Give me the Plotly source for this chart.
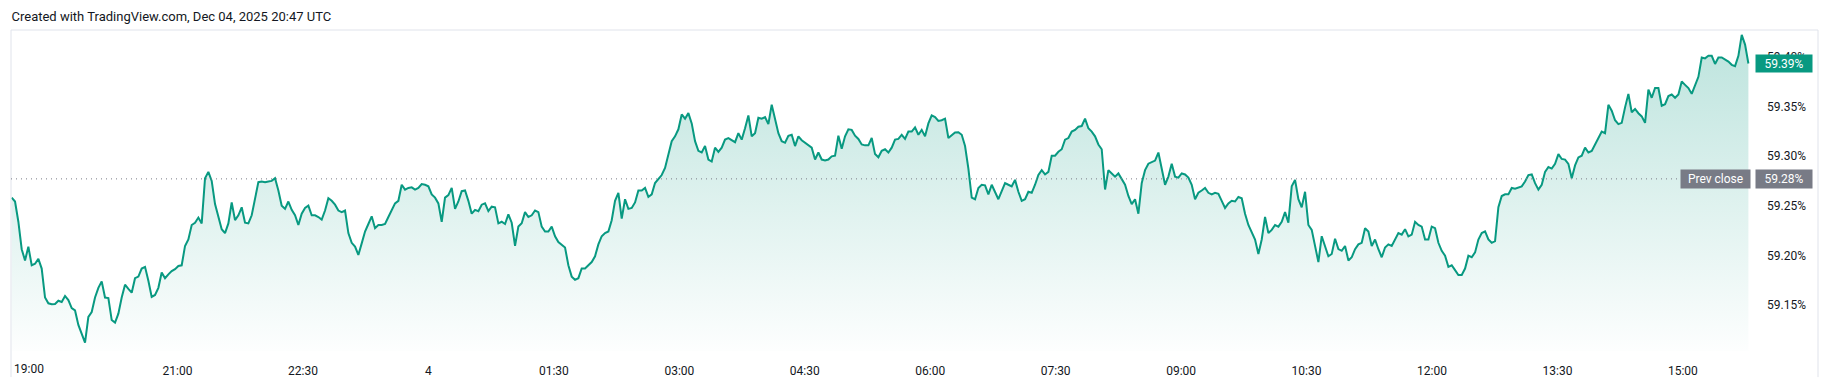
import pandas as pd
import plotly.graph_objects as go

# ---------------- data ----------------
START = "2025-12-03 19:01"
END = "2025-12-04 15:47"
PREV_CLOSE = 59.2772

seg_evening = [
    59.2583, 59.2544, 59.2340, 59.2063, 59.1950, 59.2089, 59.1901, 59.1917, 59.1966, 59.1868,
    59.1576, 59.1518, 59.1508, 59.1511, 59.1544, 59.1531, 59.1592, 59.1550, 59.1469, 59.1446,
    59.1300, 59.1202, 59.1121, 59.1381, 59.1430, 59.1576, 59.1674, 59.1739, 59.1576, 59.1570,
    59.1349, 59.1323, 59.1414, 59.1576, 59.1706, 59.1664, 59.1625, 59.1771, 59.1787, 59.1868,
    59.1885, 59.1745, 59.1583, 59.1602, 59.1674, 59.1829, 59.1771, 59.1810, 59.1842, 59.1862,
    59.1894, 59.1901, 59.2096, 59.2161, 59.2307, 59.2330, 59.2382, 59.2323, 59.2778, 59.2843,
    59.2752, 59.2518, 59.2388, 59.2265, 59.2226, 59.2323, 59.2534, 59.2356, 59.2405, 59.2486,
    59.2330, 59.2323, 59.2405, 59.2557, 59.2739, 59.2746, 59.2739, 59.2746, 59.2752, 59.2778,
    59.2655, 59.2502, 59.2470, 59.2544, 59.2460, 59.2405, 59.2307, 59.2421, 59.2479, 59.2502,
    59.2405, 59.2405, 59.2388, 59.2362, 59.2453, 59.2577, 59.2551, 59.2512, 59.2453, 59.2437,
    59.2453, 59.2226, 59.2128, 59.2089, 59.2005, 59.2122, 59.2242, 59.2317, 59.2395, 59.2275,
    59.2307, 59.2307, 59.2317, 59.2388, 59.2453, 59.2525, 59.2551, 59.2713, 59.2664, 59.2681,
    59.2687, 59.2664, 59.2681, 59.2720, 59.2713, 59.2697, 59.2616, 59.2583, 59.2525, 59.2340,
    59.2583, 59.2609, 59.2681, 59.2470, 59.2544,
]

seg_night = [
    59.2648, 59.2655, 59.2551, 59.2421, 59.2460, 59.2447, 59.2512, 59.2525, 59.2447, 59.2492,
    59.2486, 59.2324, 59.2340, 59.2317, 59.2414, 59.2330, 59.2096, 59.2291, 59.2324, 59.2437,
    59.2388, 59.2405, 59.2453, 59.2437, 59.2291, 59.2242, 59.2242, 59.2291, 59.2194, 59.2135,
    59.2103, 59.2080, 59.1901, 59.1787, 59.1755, 59.1771, 59.1869, 59.1869, 59.1901, 59.1934,
    59.1992, 59.2112, 59.2194, 59.2226, 59.2242, 59.2356, 59.2551, 59.2632, 59.2372, 59.2567,
    59.2470, 59.2479, 59.2535, 59.2655, 59.2655, 59.2681, 59.2590, 59.2616, 59.2730, 59.2769,
    59.2811, 59.2882, 59.3006, 59.3152, 59.3201, 59.3272, 59.3422, 59.3379, 59.3435, 59.3331,
    59.3152, 59.3055, 59.3038, 59.3103, 59.2967, 59.2947, 59.3087, 59.3045, 59.3087, 59.3168,
    59.3184, 59.3162, 59.3142, 59.3233, 59.3168, 59.3282, 59.3412, 59.3201, 59.3233, 59.3389,
    59.3379, 59.3396, 59.3324, 59.3519, 59.3379, 59.3233, 59.3152, 59.3136, 59.3207, 59.3217,
    59.3103, 59.3201, 59.3162, 59.3136, 59.3110, 59.3087, 59.2967, 59.3038, 59.2967, 59.2957,
    59.2967, 59.2999, 59.3006, 59.3207, 59.3077, 59.3201, 59.3272, 59.3266, 59.3207, 59.3175,
    59.3119, 59.3110, 59.3110, 59.3184, 59.3022, 59.2990, 59.3055, 59.3071, 59.3038, 59.3087,
    59.3168, 59.3175, 59.3217, 59.3175, 59.3249,
]

seg_morning = [
    59.3249, 59.3292, 59.3217, 59.3266, 59.3201, 59.3331, 59.3412, 59.3396, 59.3357, 59.3363,
    59.3379, 59.3184, 59.3217, 59.3240, 59.3243, 59.3217, 59.3103, 59.2876, 59.2583, 59.2567,
    59.2681, 59.2713, 59.2707, 59.2616, 59.2713, 59.2648, 59.2567, 59.2648, 59.2730, 59.2713,
    59.2697, 59.2762, 59.2642, 59.2551, 59.2567, 59.2642, 59.2632, 59.2713, 59.2811, 59.2860,
    59.2817, 59.2843, 59.3006, 59.3006, 59.3045, 59.3071, 59.3168, 59.3184, 59.3249, 59.3266,
    59.3298, 59.3305, 59.3379, 59.3282, 59.3249, 59.3201, 59.3119, 59.3071, 59.2665, 59.2860,
    59.2827, 59.2795, 59.2827, 59.2762, 59.2713, 59.2600, 59.2518, 59.2567, 59.2421, 59.2730,
    59.2860, 59.2925, 59.2941, 59.2957, 59.3038, 59.2876, 59.2713, 59.2795, 59.2925, 59.2795,
    59.2785, 59.2827, 59.2817, 59.2785, 59.2713, 59.2567, 59.2632, 59.2655, 59.2681, 59.2632,
    59.2616, 59.2632, 59.2622, 59.2551, 59.2479, 59.2525, 59.2551, 59.2544, 59.2590, 59.2577,
    59.2421, 59.2307, 59.2226, 59.2161, 59.2015, 59.2161, 59.2388, 59.2226, 59.2258, 59.2307,
    59.2291, 59.2340, 59.2437, 59.2330, 59.2697, 59.2762, 59.2567, 59.2486, 59.2642, 59.2307,
    59.2258, 59.2096, 59.1934, 59.2194, 59.2096, 59.1992, 59.2015, 59.2168, 59.2064, 59.2047,
    59.2096, 59.1950, 59.1982, 59.2064, 59.2112,
]

seg_afternoon = [
    59.2128, 59.2275, 59.2242, 59.2096, 59.2161, 59.2063, 59.1982, 59.2080, 59.2112, 59.2096,
    59.2161, 59.2226, 59.2210, 59.2265, 59.2193, 59.2210, 59.2339, 59.2307, 59.2291, 59.2161,
    59.2161, 59.2291, 59.2275, 59.2128, 59.2047, 59.1998, 59.1885, 59.1901, 59.1852, 59.1803,
    59.1803, 59.1868, 59.1998, 59.1982, 59.2031, 59.2161, 59.2226, 59.2242, 59.2161, 59.2128,
    59.2145, 59.2486, 59.2599, 59.2616, 59.2616, 59.2681, 59.2674, 59.2687, 59.2697, 59.2746,
    59.2811, 59.2817, 59.2729, 59.2664, 59.2713, 59.2843, 59.2892, 59.2876, 59.2924, 59.3022,
    59.2973, 59.2967, 59.2924, 59.2778, 59.2908, 59.2989, 59.3006, 59.3087, 59.3038, 59.3054,
    59.3119, 59.3184, 59.3249, 59.3233, 59.3519, 59.3460, 59.3363, 59.3324, 59.3337, 59.3493,
    59.3629, 59.3444, 59.3477, 59.3434, 59.3402, 59.3337, 59.3672, 59.3590, 59.3688, 59.3688,
    59.3509, 59.3525, 59.3607, 59.3623, 59.3590, 59.3623, 59.3753, 59.3720, 59.3688, 59.3629,
    59.3720, 59.3801, 59.3996, 59.3987, 59.4013, 59.4013, 59.3931, 59.3996, 59.3996, 59.3974,
    59.3954, 59.3922, 59.3909, 59.4013, 59.4224, 59.4126, 59.3935,
]

values = seg_evening + seg_night + seg_morning + seg_afternoon
times = pd.date_range(START, END, periods=len(values))

tick_times = [
    "2025-12-03 21:00", "2025-12-03 22:30", "2025-12-04 00:00", "2025-12-04 01:30",
    "2025-12-04 03:00", "2025-12-04 04:30", "2025-12-04 06:00", "2025-12-04 07:30",
    "2025-12-04 09:00", "2025-12-04 10:30", "2025-12-04 12:00", "2025-12-04 13:30",
    "2025-12-04 15:00",
]
tick_labels = ["21:00", "22:30", "4", "01:30", "03:00", "04:30", "06:00", "07:30",
               "09:00", "10:30", "12:00", "13:30", "15:00"]
first_tick_label = "19:00"
price_ticks = [59.15, 59.20, 59.25, 59.30, 59.35, 59.40]

# ---------------- layout geometry ----------------
W, H = 1831, 389
L, R, T, B = 11, 81, 30, 27
PW, PH = W - L - R, H - T - B
X_RANGE = ["2025-12-03 19:00:30", "2025-12-04 15:48:09"]
Y_RANGE = [59.1037, 59.4273]

GREEN = "#089981"
GRAY = "#787b86"
TEXT = "#131722"
FONT = "Roboto, 'Noto Sans', sans-serif"


def px_x(px):
    return (px - L) / PW


def px_y(py):
    return (H - B - py) / PH


fig = go.Figure()
fig.add_trace(go.Scatter(
    x=times, y=values, mode="lines",
    line=dict(color=GREEN, width=2),
    fill="tozeroy",
    fillgradient=dict(
        type="vertical",
        colorscale=[[0, "rgba(8,153,129,0.0)"], [1, "rgba(8,153,129,0.27)"]],
        start=Y_RANGE[0], stop=max(values),
    ),
    hoverinfo="skip", showlegend=False,
))

fig.update_layout(
    width=W, height=H,
    margin=dict(l=L, r=R, t=T, b=B, pad=0),
    paper_bgcolor="white", plot_bgcolor="white",
    font=dict(family=FONT, size=12, color=TEXT),
    title=dict(
        text="Created with TradingView.com, Dec 04, 2025 20:47 UTC",
        x=11.5 / W, xref="container", xanchor="left",
        y=1 - 16.5 / H, yref="container", yanchor="middle",
        font=dict(family=FONT, size=13, color=TEXT),
    ),
    xaxis=dict(
        range=X_RANGE, showgrid=False, zeroline=False, showline=False,
        tickmode="array", tickvals=tick_times, ticktext=tick_labels,
        ticks="", ticklabelstandoff=11,
        tickfont=dict(family=FONT, size=12, color=TEXT),
    ),
    yaxis=dict(
        range=Y_RANGE, side="right", showgrid=False, zeroline=False, showline=False,
        tickmode="array", tickvals=price_ticks,
        ticktext=[f"{v:.2f}%" for v in price_ticks],
        ticks="", ticklabelstandoff=16,
        tickfont=dict(family=FONT, size=12, color=TEXT),
    ),
    showlegend=False,
)

# pane border
border = dict(color="#e0e3eb", width=1)
fig.add_shape(type="line", xref="paper", yref="paper", x0=0, x1=px_x(1818), y0=1, y1=1, line=border)
fig.add_shape(type="line", xref="paper", yref="paper", x0=0, x1=0, y0=1, y1=px_y(H), line=border)
fig.add_shape(type="line", xref="paper", yref="paper", x0=px_x(1818), x1=px_x(1818), y0=1, y1=px_y(H), line=border)

# previous close dotted line
fig.add_shape(type="line", xref="paper", yref="y", x0=0, x1=1, y0=PREV_CLOSE, y1=PREV_CLOSE,
              line=dict(color=GRAY, width=1, dash="1px,4px"), layer="above")

# first time label at left edge
fig.add_annotation(x=px_x(12), y=px_y(380.5), xref="paper", yref="paper", text=first_tick_label,
                   showarrow=False, xanchor="left", yanchor="middle",
                   font=dict(family=FONT, size=12, color=TEXT))

badge_font = dict(family=FONT, size=12, color="white")
fig.add_annotation(x=px_x(1715.5), y=PREV_CLOSE, xref="paper", yref="y", text="Prev close",
                   showarrow=False, bgcolor=GRAY, font=badge_font, width=65, height=14,
                   borderpad=2, xanchor="center", yanchor="middle")
fig.add_annotation(x=px_x(1784), y=PREV_CLOSE, xref="paper", yref="y", text=f"{PREV_CLOSE:.2f}%",
                   showarrow=False, bgcolor=GRAY, font=badge_font, width=52, height=14,
                   borderpad=2, xanchor="center", yanchor="middle")
fig.add_annotation(x=px_x(1784), y=values[-1], xref="paper", yref="y", text=f"{values[-1]:.2f}%",
                   showarrow=False, bgcolor=GREEN, font=badge_font, width=52, height=13,
                   borderpad=2, xanchor="center", yanchor="middle")

fig.write_html("out.html", config={"displayModeBar": False},
               post_script="document.body.style.margin='0';")
